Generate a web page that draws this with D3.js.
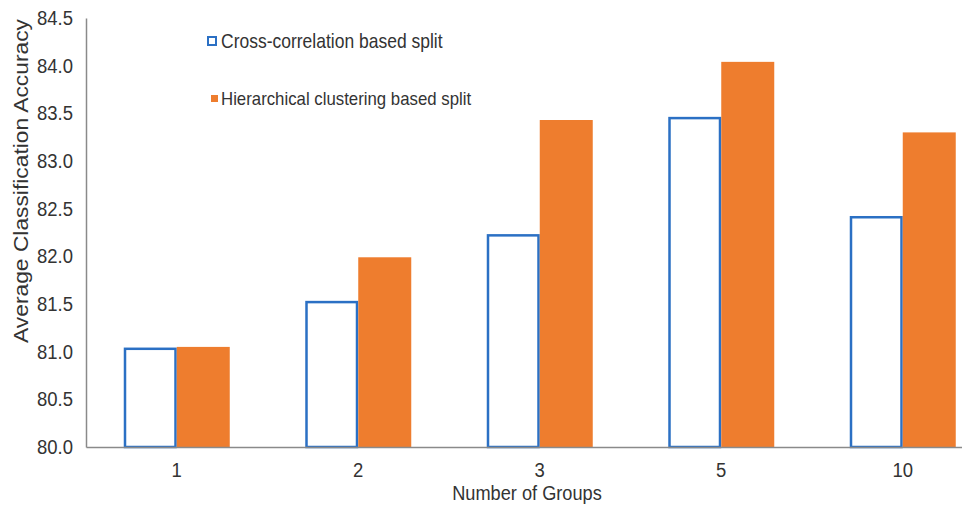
<!DOCTYPE html>
<html><head><meta charset="utf-8">
<script src="https://cdn.jsdelivr.net/npm/d3@7"></script>
<style>body{margin:0;background:#fff}svg{display:block}text{font-family:"Liberation Sans",Arial,sans-serif;fill:#333}</style>
</head><body><svg id="c" width="962" height="505"></svg>
<script>
const categories = ["1","2","3","5","10"];
const crossCorr = [81.03, 81.52, 82.22, 83.45, 82.41];
const hierClust = [81.05, 81.99, 83.43, 84.04, 83.30];
const yTicks = [80.0,80.5,81.0,81.5,82.0,82.5,83.0,83.5,84.0,84.5];
const seriesNames = ["Cross-correlation based split","Hierarchical clustering based split"];

const svg = d3.select("#c");
const mLeft = 86, mTop = 18, mBottom = 447, mRight = 993.5;
const vs = 1.12; // vertical stretch of text in the reference
const x = d3.scaleBand().domain(categories).range([mLeft, mRight]).paddingInner(0).paddingOuter(0);
const y = d3.scaleLinear().domain([80, 84.5]).range([mBottom, mTop]);
const barW = 53;

const g = svg.append("g");
categories.forEach((c,i)=>{
  const cx = x(c) + x.bandwidth()/2;
  g.append("rect").attr("x", cx - barW + 1.25).attr("y", y(crossCorr[i]))
    .attr("width", barW - 2.5).attr("height", mBottom - y(crossCorr[i]))
    .attr("fill","#fff").attr("stroke","#2B70C4").attr("stroke-width",2.5);
  g.append("rect").attr("x", cx).attr("y", y(hierClust[i]))
    .attr("width", barW).attr("height", mBottom - y(hierClust[i]))
    .attr("fill","#EE7D2E");
});

// axes
const yAxis = svg.append("g").attr("transform",`translate(${mLeft},0)`)
  .call(d3.axisLeft(y).tickValues(yTicks).tickFormat(d3.format(".1f")).tickSize(0).tickPadding(13));
yAxis.select(".domain").attr("stroke","#8a8a8a").attr("stroke-width",1.5);
yAxis.selectAll(".tick text").attr("font-size",18.5).attr("fill","#333")
  .attr("dy",null).attr("y",0).attr("transform",`translate(0,6.5) scale(1,${vs})`);

const xAxis = svg.append("g").attr("transform",`translate(0,${mBottom})`)
  .call(d3.axisBottom(x).tickSize(0));
xAxis.select(".domain").attr("stroke","#8a8a8a").attr("stroke-width",1.5);
xAxis.selectAll(".tick text").attr("font-size",18.5).attr("fill","#333")
  .attr("dy",null).attr("y",0).attr("transform",`translate(0,30) scale(1,${vs})`);

svg.append("text").attr("transform","translate(28,181) rotate(-90) scale(1.14,1)")
  .attr("text-anchor","middle").attr("font-size",20).text("Average Classification Accuracy");
svg.append("text").attr("transform",`translate(527,500) scale(1,${vs})`).attr("text-anchor","middle")
  .attr("font-size",18.2).text("Number of Groups");

// legend
const leg = svg.append("g");
leg.append("rect").attr("x",208).attr("y",37).attr("width",8).attr("height",8)
  .attr("fill","#fff").attr("stroke","#2B70C4").attr("stroke-width",2);
leg.append("text").attr("transform",`translate(221,48) scale(1,${vs})`).attr("font-size",17.5).text(seriesNames[0]);
leg.append("rect").attr("x",211).attr("y",95).attr("width",7).attr("height",7).attr("fill","#EE7D2E");
leg.append("text").attr("transform",`translate(221,105) scale(1,${vs})`).attr("font-size",16.8).text(seriesNames[1]);
</script></body></html>
